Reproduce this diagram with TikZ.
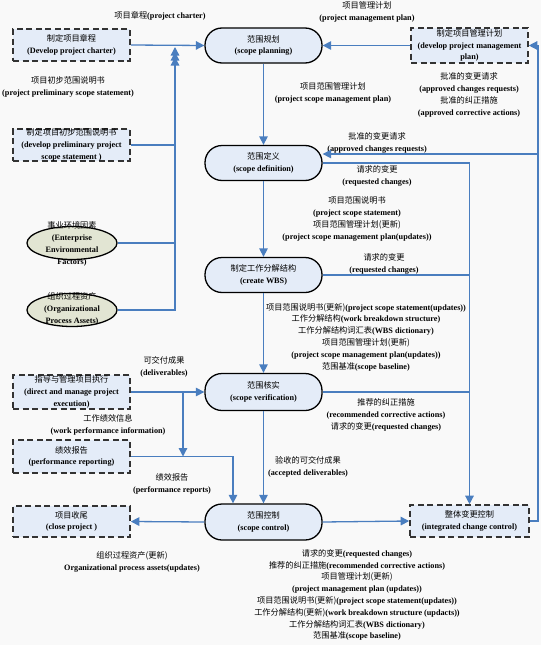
\documentclass[tikz,border=0pt]{standalone}
\usepackage{fontspec}
\setmainfont{Liberation Serif}
\newfontfamily\cjk{Noto Sans CJK SC}
\usetikzlibrary{arrows.meta,shapes.geometric,calc}
\definecolor{bgc}{HTML}{F9F9F9}
\definecolor{boxfill}{HTML}{E4ECF8}
\definecolor{ellfill}{HTML}{E2E5D3}
\definecolor{arrowblue}{HTML}{4A7EBF}
\definecolor{dashc}{HTML}{333333}
\newcommand{\zh}[1]{{\cjk\mdseries #1}}
\begin{document}
\begin{tikzpicture}[x=1pt,y=-1pt,
 every node/.style={font=\fontsize{8.2}{11.8}\selectfont\bfseries, align=center, inner sep=0pt},
 dbox/.style={draw=dashc, line width=1.6pt, dash pattern=on 6pt off 3.5pt, fill=boxfill, minimum width=117pt, minimum height=32pt},
 pill/.style={draw=black, line width=1.3pt, fill=boxfill, rounded corners=17pt, minimum width=117pt, minimum height=35pt},
 ell/.style={ellipse, draw=black, line width=1.3pt, fill=ellfill, minimum width=90pt, minimum height=33pt},
 conn/.style={draw=arrowblue, line width=1.3pt},
 arr/.style={conn, -{Triangle[length=8.5pt,width=8.5pt]}}
]
\fill[bgc] (0,0) rectangle (541,645);
\useasboundingbox (0,0) rectangle (541,645);

% nodes
\node[dbox] (charter) at (71.5,45) {\zh{制定项目章程}\\(Develop project charter)};
\node[pill] (splan) at (263.5,45.5) {\zh{范围规划}\\(scope planning)};
\node[dbox, minimum height=35pt] (pmplan) at (469.5,45.5) {\zh{制定项目管理计划}\\(develop project management\\plan)};
\node[dbox] (prelim) at (71.5,145) {\zh{制定项目初步范围说明书}\\(develop preliminary project\\scope statement )};
\node[ell] (eef) at (72,243) {};
\node (eeft) at (72,244) {\zh{事业环境因素}\\(Enterprise\\Environmental\\Factors)};
\node[ell] (opa) at (72,310) {};
\node (opat) at (72,309) {\zh{组织过程资产}\\(Organizational\\Process Assets)};
\node[pill] (sdef) at (263.5,163) {\zh{范围定义}\\(scope definition)};
\node[pill] (wbs) at (263.5,275) {\zh{制定工作分解结构}\\(create WBS)};
\node[dbox, minimum height=34pt] (dme) at (71.5,392) {\zh{指导与管理项目执行}\\(direct and manage project\\execution)};
\node[pill, minimum height=37pt] (sver) at (263.5,392) {\zh{范围核实}\\(scope verification)};
\node[dbox, minimum height=33pt] (perf) at (71.5,456.5) {\zh{绩效报告}\\(performance reporting)};
\node[dbox, minimum height=31pt] (close) at (71.5,521.5) {\zh{项目收尾}\\(close project )};
\node[pill, minimum height=36pt] (sctrl) at (263.5,522) {\zh{范围控制}\\(scope control)};
\node[dbox, minimum height=32pt, minimum width=119pt] (icc) at (469.5,521) {\zh{整体变更控制}\\(integrated change control)};

% labels
\node (l1) at (160,16) {\zh{项目章程}(project charter)};
\node (l2) at (367,12) {\zh{项目管理计划}\\(project management plan)};
\node (l3) at (68,87) {\zh{项目初步范围说明书}\\(project preliminary scope statement)};
\node (l4) at (333,93) {\zh{项目范围管理计划}\\(project scope management plan)};
\node (l5) at (469,95) {\zh{批准的变更请求}\\(approved changes requests)\\\zh{批准的纠正措施}\\(approved corrective actions)};
\node (l6) at (377,143) {\zh{批准的变更请求}\\(approved changes requests)};
\node (l7) at (377,176) {\zh{请求的变更}\\(requested changes)};
\node (l8) at (357,219) {\zh{项目范围说明书}\\(project scope statement)\\\zh{项目范围管理计划(更新)}\\(project scope management plan(updates))};
\node (l9) at (384,264) {\zh{请求的变更}\\(requested changes)};
\node (l10) at (366,337) {\zh{项目范围说明书(更新)}(project scope statement(updates))\\\zh{工作分解结构}(work breakdown structure)\\\zh{工作分解结构词汇表}(WBS dictionary)\\\zh{项目范围管理计划(更新)}\\(project scope management plan(updates))\\\zh{范围基准}(scope baseline)};
\node (l11) at (164,367) {\zh{可交付成果}\\(deliverables)};
\node (l12) at (108,425) {\zh{工作绩效信息}\\(work performance information)};
\node (l13) at (172,484) {\zh{绩效报告}\\(performance reports)};
\node (l14) at (386,415) {\zh{推荐的纠正措施}\\(recommended corrective actions)\\\zh{请求的变更}(requested changes)};
\node (l15) at (308,467) {\zh{验收的可交付成果}\\(accepted deliverables)};
\node (l16) at (132,562) {\zh{组织过程资产(更新)}\\Organizational process assets(updates)};
\node (l17) at (357,595) {\zh{请求的变更}(requested changes)\\\zh{推荐的纠正措施}(recommended corrective actions)\\\zh{项目管理计划(更新)}\\(project management plan (updates))\\\zh{项目范围说明书(更新)}(project scope statement(updates))\\\zh{工作分解结构(更新)}(work breakdown structure (updacts))\\\zh{工作分解结构词汇表}(WBS dictionary)\\\zh{范围基准}(scope baseline)};

% connectors
\draw[arr] (charter.east) -- (splan.west);
\draw[arr] (pmplan.west) -- (splan.east);
\coordinate (jA) at (175,47);
\coordinate (jB) at (175,52);
\coordinate (jC) at (175,57);
\draw[arr] (prelim.east) -| (jA);
\draw[arr] (eef.east) -| (jB);
\draw[arr] (opa.east) -| (jC);

\coordinate (rb) at (538,521);
\coordinate (rt) at (538,45.5);
\coordinate (rm) at (538,154);
\draw[arr] (icc.east) -- (rb) -- (rt) -- (pmplan.east);
\draw[arr] (rm) -- (rm -| sdef.east);

\coordinate (c1) at (469.5,163);
\coordinate (c2) at (469.5,275);
\coordinate (c3) at (469.5,392);
\draw[conn] (sdef.east) -- (c1);
\draw[conn] (wbs.east) -- (c2);
\draw[conn] (sver.east) -- (c3);
\draw[arr] (c1) -- (icc.north);

\draw[arr] (splan) -- (sdef);
\draw[arr] (sdef) -- (wbs);
\draw[arr] (wbs) -- (sver);
\draw[arr] (sver) -- (sctrl);

\draw[arr] (dme.east) -- (sver.west);
\coordinate (b1) at (183,392);
\coordinate (b2) at (183,456.5);
\draw[arr] (b1) -- (b2);
\coordinate (p2) at (233,456.5);
\draw[arr] (perf.east) -- (p2) -- (sctrl.north -| p2);
\draw[arr] (sctrl.west) -- (close.east);
\draw[arr] (sctrl.east) -- (icc.west);
\end{tikzpicture}
\end{document}
